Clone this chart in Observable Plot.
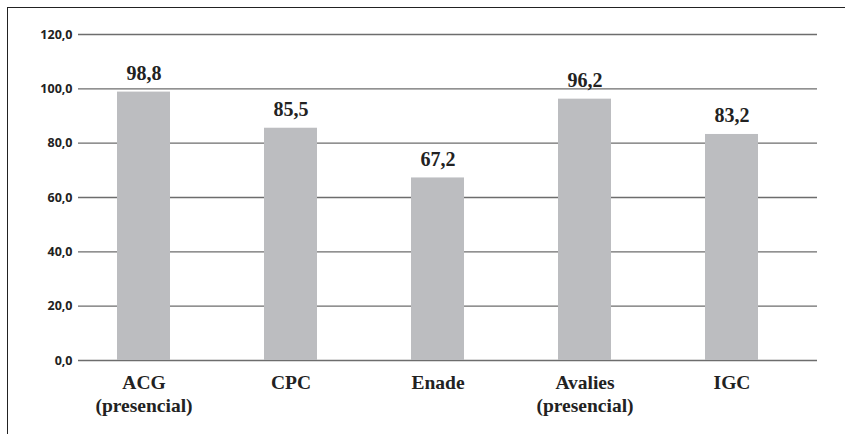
<!DOCTYPE html>
<html><head><meta charset="utf-8">
<script src="https://cdn.jsdelivr.net/npm/d3@7"></script>
<script src="https://cdn.jsdelivr.net/npm/@observablehq/plot@0.6"></script>
<style>
html,body{margin:0;padding:0;background:#fff;}
#wrap{position:relative;width:845px;height:434px;overflow:hidden;}
#frame{position:absolute;left:7px;top:7px;width:845px;height:440px;border-top:1.5px solid #222;border-left:1.5px solid #222;}
#chart{position:absolute;left:0;top:0;}
.serif text, text.serif{font-family:"Liberation Serif","Times New Roman",Times,"DejaVu Serif",serif !important;}
</style></head>
<body><div id="wrap"><div id="frame"></div><div id="chart"></div></div>
<script>
const categories = ["ACG\n(presencial)", "CPC", "Enade", "Avalies\n(presencial)", "IGC"];
const values = [98.8, 85.5, 67.2, 96.2, 83.2];
const yTicks = [0, 20, 40, 60, 80, 100, 120];

const data = categories.map((c, i) => ({cat: c, v: values[i]}));
const fmt = v => v.toFixed(1).replace(".", ",");

const chart = Plot.plot({
  width: 845,
  height: 434,
  marginTop: 34,
  marginBottom: 74,
  marginLeft: 78,
  marginRight: 28,
  style: {background: "transparent"},
  x: {domain: categories, range: [68.4, 805.6], paddingInner: 0.64, paddingOuter: 0.32, label: null},
  y: {domain: [0, 120], label: null},
  marks: [
    Plot.ruleY(yTicks, {stroke: "#6d6d6d", strokeWidth: 1.3, strokeOpacity: 1}),
    Plot.barY(data, {x: "cat", y: "v", fill: "#bcbdc0"}),
    Plot.text(data, {x: "cat", y: "v", text: d => fmt(d.v), dy: -12, lineAnchor: "bottom",
      className: "serif", fontWeight: "bold", fontSize: 20, fill: "#222"}),
    Plot.axisY({ticks: yTicks, tickSize: 0, tickPadding: 6, tickFormat: fmt,
      fontFamily: "Open Sans", fontWeight: "bold", fontSize: 12.5, fill: "#222"}),
    Plot.axisX({tickSize: 0, tickPadding: 13, lineHeight: 1.15, className: "serif",
      fontWeight: "bold", fontSize: 19.5, fill: "#222"})
  ]
});
document.getElementById("chart").appendChild(chart);
</script></body></html>
